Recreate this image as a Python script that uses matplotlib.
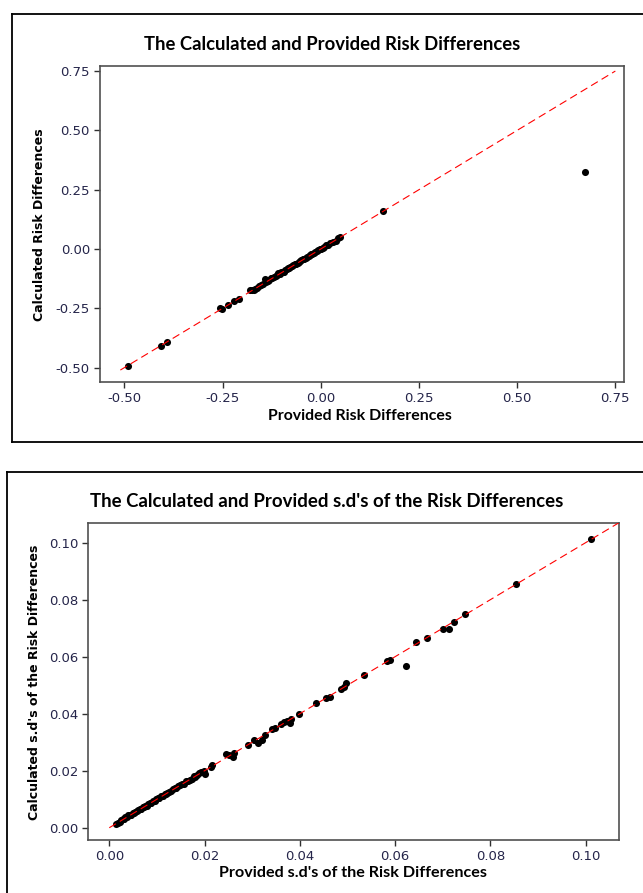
import matplotlib
matplotlib.use("Agg")
import matplotlib.pyplot as plt
from matplotlib.lines import Line2D

W, H = 643, 893

# --- data ------------------------------------------------------------------------------
rd_provided = [-0.491, -0.407, -0.392, -0.256, -0.251, -0.235, -0.221, -0.208,
               -0.180, -0.176, -0.171, -0.168, -0.163, -0.158, -0.152, -0.147, -0.142,
               -0.139, -0.135, -0.131, -0.127, -0.123, -0.119, -0.115, -0.111, -0.108,
               -0.104, -0.100, -0.097, -0.094, -0.090, -0.087, -0.083, -0.080, -0.077,
               -0.073, -0.070, -0.066, -0.063, -0.059, -0.056, -0.052, -0.049, -0.045,
               -0.042, -0.038, -0.035, -0.031, -0.028, -0.024, -0.021, -0.017, -0.014,
               -0.010, -0.007, -0.003, 0.001, 0.005, 0.009, 0.013, 0.018, 0.023, 0.030,
               0.038, 0.045, 0.050, 0.158, 0.672]
rd_calculated = [-0.493, -0.407, -0.393, -0.247, -0.253, -0.236, -0.220, -0.209,
                 -0.173, -0.172, -0.174, -0.167, -0.164, -0.157, -0.150, -0.146, -0.127,
                 -0.140, -0.133, -0.130, -0.124, -0.122, -0.117, -0.114, -0.110, -0.103,
                 -0.106, -0.098, -0.095, -0.095, -0.088, -0.086, -0.081, -0.079, -0.075,
                 -0.071, -0.069, -0.064, -0.062, -0.057, -0.055, -0.050, -0.047, -0.043,
                 -0.041, -0.036, -0.034, -0.029, -0.027, -0.022, -0.020, -0.015, -0.013,
                 -0.008, -0.006, -0.001, 0.002, 0.006, 0.010, 0.015, 0.019, 0.024, 0.031,
                 0.032, 0.046, 0.052, 0.159, 0.324]

sd_provided = [0.0015, 0.0018, 0.0022, 0.0025, 0.0028, 0.0031, 0.0034, 0.0037, 0.0040,
               0.0043, 0.0046, 0.0049, 0.0052, 0.0055, 0.0058, 0.0061, 0.0064, 0.0067,
               0.0070, 0.0073, 0.0076, 0.0079, 0.0082, 0.0085, 0.0088, 0.0091, 0.0095,
               0.0099, 0.0102, 0.0105, 0.0108, 0.0112, 0.0116, 0.0119, 0.0122, 0.0126,
               0.0130, 0.0134, 0.0138, 0.0141, 0.0145, 0.0149, 0.0153, 0.0157, 0.0161,
               0.0165, 0.0169, 0.0173, 0.0177, 0.0181, 0.0185, 0.0189,
               0.0192, 0.0199, 0.0200, 0.0213, 0.0216, 0.0244, 0.0252, 0.0260, 0.0262,
               0.0292, 0.0303, 0.0312, 0.0321, 0.0327, 0.0342, 0.0347, 0.0360, 0.0366,
               0.0374, 0.0380, 0.0381, 0.0398, 0.0435, 0.0456, 0.0464, 0.0486, 0.0493,
               0.0497, 0.0535, 0.0583, 0.0590, 0.0622, 0.0644, 0.0667, 0.0700, 0.0714,
               0.0724, 0.0747, 0.0853, 0.1012]
sd_calculated = [0.0012, 0.0018, 0.0021, 0.0028, 0.0030, 0.0030, 0.0036, 0.0036, 0.0043,
                 0.0045, 0.0045, 0.0052, 0.0050, 0.0056, 0.0057, 0.0063, 0.0066, 0.0066,
                 0.0072, 0.0073, 0.0078, 0.0078, 0.0085, 0.0086, 0.0087, 0.0094, 0.0094,
                 0.0101, 0.0103, 0.0104, 0.0110, 0.0111, 0.0117, 0.0119, 0.0123, 0.0127,
                 0.0129, 0.0135, 0.0140, 0.0138, 0.0148, 0.0150, 0.0152, 0.0155, 0.0163,
                 0.0164, 0.0168, 0.0171, 0.0180, 0.0179, 0.0186, 0.0192,
                 0.0196, 0.0199, 0.0187, 0.0213, 0.0220, 0.0258, 0.0255, 0.0247, 0.0263,
                 0.0290, 0.0307, 0.0299, 0.0307, 0.0326, 0.0345, 0.0349, 0.0364, 0.0372,
                 0.0376, 0.0367, 0.0383, 0.0400, 0.0436, 0.0456, 0.0459, 0.0488, 0.0495,
                 0.0507, 0.0537, 0.0585, 0.0588, 0.0569, 0.0652, 0.0667, 0.0698, 0.0698,
                 0.0722, 0.0751, 0.0855, 0.1013]

rd_ticks = [-0.50, -0.25, 0.00, 0.25, 0.50, 0.75]
sd_ticks = [0.00, 0.02, 0.04, 0.06, 0.08, 0.10]

TITLE_FONT = ["Lato", "DejaVu Sans"]
TICK_COLOR = "#25254a"
SPINE_COLOR = "#505050"


def fx(x):
    return x / W


def fy(y):
    return 1 - y / H


def axes_box(l, t, r, b):
    return [fx(l), fy(b), (r - l) / W, (b - t) / H]


def style(ax, ticks, fmt):
    for side in ("top", "right", "left", "bottom"):
        ax.spines[side].set_color(SPINE_COLOR)
        ax.spines[side].set_linewidth(1.2)
    ax.set_xticks(ticks)
    ax.set_yticks(ticks)
    ax.set_xticklabels([fmt.format(t) for t in ticks])
    ax.set_yticklabels([fmt.format(t) for t in ticks])
    ax.tick_params(direction="out", length=4, width=1, color="#303030",
                   labelsize=9.5, labelcolor=TICK_COLOR, pad=3)


fig = plt.figure(figsize=(W / 100, H / 100), dpi=100)

# panel frames (right side runs off the image)
for seg in [((12.3, 13.7), (700, 13.7)), ((12.3, 13.7), (12.3, 441.7)),
            ((12.3, 441.7), (700, 441.7)),
            ((6.7, 471.7), (700, 471.7)), ((6.7, 471.7), (6.7, 900))]:
    (x0, y0), (x1, y1) = seg
    fig.add_artist(Line2D([fx(x0), fx(x1)], [fy(y0), fy(y1)], color="black", lw=1.3,
                          transform=fig.transFigure))

# --- top: risk differences ---------------------------------------------------------------
ax1 = fig.add_axes(axes_box(99.7, 66.3, 624, 382.3))
ax1.scatter(rd_provided, rd_calculated, s=26, c="black", zorder=2, linewidths=0)
ax1.plot([-0.51, 0.75], [-0.51, 0.75], color="red", lw=0.8, dashes=(7, 4), zorder=3)
ax1.set_xlim(-0.5626, 0.772)
ax1.set_ylim(-0.5616, 0.770)
style(ax1, rd_ticks, "{:.2f}")
fig.text(fx(332), fy(44), "The Calculated and Provided Risk Differences", ha="center",
         va="center", fontsize=13.3, fontweight="bold", family=TITLE_FONT)
fig.text(fx(360), fy(416), "Provided Risk Differences", ha="center", va="center",
         fontsize=11.4, fontweight="bold", family=TITLE_FONT)
fig.text(fx(40), fy(225), "Calculated Risk Differences", ha="center", va="center",
         rotation=90, fontsize=9, fontweight="bold")

# --- bottom: s.d.'s ------------------------------------------------------------------------
ax2 = fig.add_axes(axes_box(88.3, 522.7, 619, 840))
ax2.scatter(sd_provided, sd_calculated, s=26, c="black", zorder=2, linewidths=0)
ax2.plot([0, 0.11], [0, 0.11], color="red", lw=0.8, dashes=(7, 4), zorder=3)
ax2.set_xlim(-0.0044, 0.107)
ax2.set_ylim(-0.0043, 0.107)
style(ax2, sd_ticks, "{:.2f}")
fig.text(fx(327), fy(502), "The Calculated and Provided s.d's of the Risk Differences",
         ha="center", va="center", fontsize=13.4, fontweight="bold", family=TITLE_FONT)
fig.text(fx(353), fy(873), "Provided s.d's of the Risk Differences", ha="center",
         va="center", fontsize=11.6, fontweight="bold", family=TITLE_FONT)
fig.text(fx(35), fy(682), "Calculated s.d's of the Risk Differences", ha="center",
         va="center", rotation=90, fontsize=9, fontweight="bold")

fig.savefig("out.png", dpi=100)
